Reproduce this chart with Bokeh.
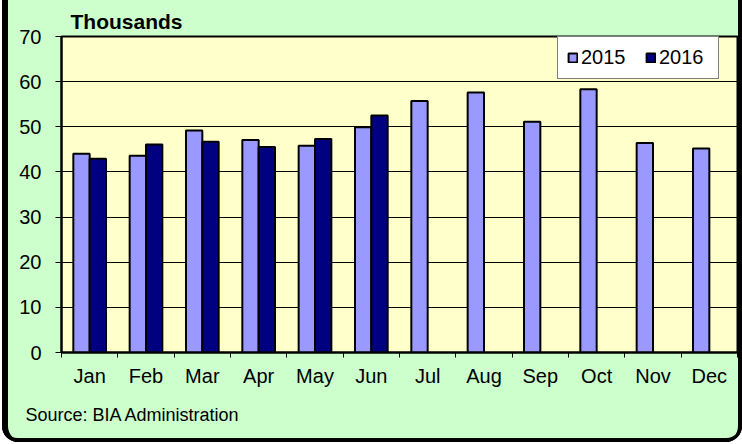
from bokeh.plotting import figure
from bokeh.models import (ColumnDataSource, Range1d, LinearAxis, FixedTicker,
                          Legend, LegendItem, Title)
from bokeh.embed import file_html
from bokeh.resources import INLINE

months = ["Jan", "Feb", "Mar", "Apr", "May", "Jun", "Jul", "Aug", "Sep", "Oct", "Nov", "Dec"]
y2015 = [44.0, 43.6, 49.2, 47.1, 45.8, 49.9, 55.7, 57.6, 51.1, 58.3, 46.4, 45.2]
y2016 = [42.9, 46.1, 46.7, 45.5, 47.3, 52.5]
y_ticks = [0, 10, 20, 30, 40, 50, 60, 70]

FONT = "Liberation Sans"
BAR_W = 0.29

centers = [i + 0.5 for i in range(len(months))]
boundaries = list(range(len(months) + 1))

src15 = ColumnDataSource(dict(x=[c - BAR_W / 2 for c in centers], value=y2015))
src16 = ColumnDataSource(dict(x=[c + BAR_W / 2 for c in centers[:len(y2016)]], value=y2016))

p = figure(
    x_range=Range1d(0, len(months)),
    y_range=Range1d(0, 70),
    width=740, height=442,
    output_backend="svg", toolbar_location=None,
    x_axis_location=None, title=None,
    min_border_left=59, min_border_right=5, min_border_top=36, min_border_bottom=90,
    border_fill_color=None, background_fill_color="#FFFFCC",
    outline_line_color="black", outline_line_width=2,
    styles={
        "margin-left": "2px",
        "background-color": "#CCFFCC",
        "border-radius": "0px 0px 16px 16px",
        "box-shadow": "inset 6px 0 0 0 black, inset -4px 0 0 0 black, inset 0 -4px 0 0 black",
        "overflow": "hidden",
    },
)

# y axis
p.yaxis.ticker = FixedTicker(ticks=y_ticks)
p.yaxis.minor_tick_line_color = None
p.yaxis.major_tick_out = 6
p.yaxis.major_tick_in = 0
p.yaxis.major_tick_line_color = "black"
p.yaxis.axis_line_color = "black"
p.yaxis.axis_line_width = 2
p.yaxis.major_label_text_font = FONT
p.yaxis.major_label_text_font_size = "20px"
p.yaxis.major_label_text_color = "black"
p.yaxis.major_label_standoff = 14

p.ygrid.grid_line_color = "black"
p.ygrid.grid_line_width = 1
p.ygrid.ticker = FixedTicker(ticks=y_ticks)
p.xgrid.visible = False

# boundary tick axis (ticks between months, no labels)
tick_axis = LinearAxis(ticker=FixedTicker(ticks=boundaries),
                       major_label_text_font_size="0px", major_label_text_alpha=0,
                       major_label_standoff=0, major_tick_out=5, major_tick_in=0,
                       minor_tick_line_color=None, axis_line_color="black", axis_line_width=2,
                       major_tick_line_color="black")
p.add_layout(tick_axis, "below")

# month labels at centres
label_axis = LinearAxis(ticker=FixedTicker(ticks=centers),
                        major_label_overrides={c: m for c, m in zip(centers, months)},
                        major_tick_line_color=None, minor_tick_line_color=None,
                        axis_line_color=None,
                        major_label_text_font=FONT, major_label_text_font_size="20px",
                        major_label_text_color="black", major_label_standoff=1)
p.add_layout(label_axis, "below")

r15 = p.vbar(x="x", top="value", width=BAR_W, source=src15,
             fill_color="#9999FF", line_color="black", line_width=2)
r16 = p.vbar(x="x", top="value", width=BAR_W, source=src16,
             fill_color="#000080", line_color="black", line_width=2)

legend = Legend(items=[LegendItem(label="2015", renderers=[r15]),
                       LegendItem(label="2016", renderers=[r16])],
                orientation="horizontal", location=(496, 273),
                glyph_width=11, glyph_height=11, label_standoff=3, spacing=14,
                label_width=50, padding=9, margin=0,
                label_text_font=FONT, label_text_font_size="20px", label_text_color="black",
                border_line_color="black", border_line_width=1,
                background_fill_color="white", background_fill_alpha=1)
p.add_layout(legend, "center")

p.add_layout(Title(text="Thousands", align="left", offset=9, standoff=7,
                   text_font=FONT, text_font_size="21px", text_font_style="bold",
                   text_color="black"), "above")
p.add_layout(Title(text="Source: BIA Administration", align="left", offset=-36,
                   vertical_align="bottom", standoff=26,
                   text_font=FONT, text_font_size="18px", text_font_style="normal",
                   text_color="black"), "below")

open("out.html", "w").write(file_html(p, INLINE))
